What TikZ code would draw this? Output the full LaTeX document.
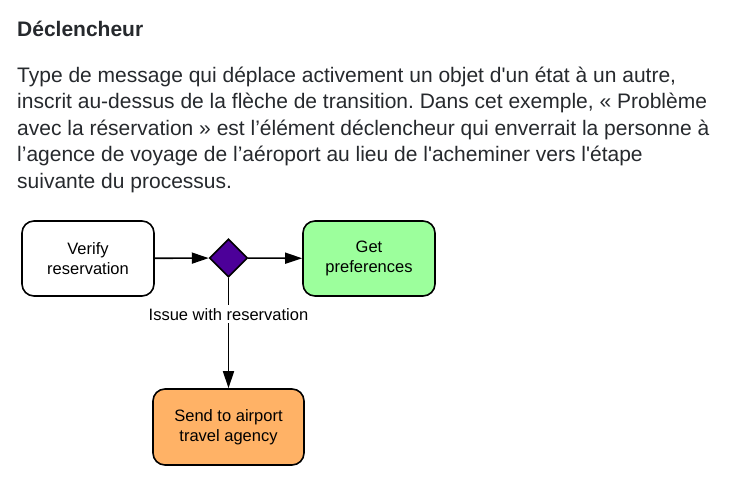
\documentclass[tikz,border=0pt]{standalone}
\usepackage{fontspec}
\setmainfont{Liberation Sans}
\usetikzlibrary{arrows.meta,positioning,shapes.geometric}
\definecolor{textgray}{HTML}{26292D}
\definecolor{prefgreen}{HTML}{9CFF9C}
\definecolor{agencyorange}{HTML}{FFB266}
\definecolor{gatepurple}{HTML}{4C0099}
\frenchspacing

\begin{document}
\begin{tikzpicture}[x=1pt, y=-1pt,
        every node/.style = {align=center, inner sep=0pt},
        state/.style = {draw, line width=1.6pt, rounded corners=12pt, minimum width=132pt, minimum height=75pt,
                font=\fontsize{16.5}{20}\selectfont},
        gate/.style = {draw, line width=1.6pt, diamond, fill=gatepurple, minimum width=38pt, minimum height=38pt},
        flow/.style = {line width=1.6pt, -{Triangle[length=17pt, width=11pt]}}]
        \useasboundingbox (0,0) rectangle (748,490);
        % heading and explanation
        \node [anchor=base west, text=textgray, font=\fontsize{21}{25}\bfseries\selectfont] (title) at (17,36) {Déclencheur};
        \node [anchor=north west, align=left, text=textgray, font=\fontsize{21}{26.6}\selectfont] (body) at (17,66.5)
                {Type de message qui déplace activement un objet d\textquotesingle un état à un autre,\\
                inscrit au-dessus de la flèche de transition. Dans cet exemple, « Problème\\
                avec la réservation » est l’élément déclencheur qui enverrait la personne à\\
                l’agence de voyage de l’aéroport au lieu de l\textquotesingle acheminer vers l\textquotesingle étape\\
                suivante du processus.};
        % diagram
        \node [state, fill=white] (verify) at (88,258.5) {Verify\\reservation};
        \node [gate] (check) at (228.5,258) {};
        \node [state, fill=prefgreen] (prefs) at (369,258.5) {Get\\preferences};
        \node [state, fill=agencyorange, minimum width=151pt, minimum height=76pt] (agency) at (228.5,427) {Send to airport\\travel agency};
        \draw [flow] (verify) -- (check);
        \draw [flow] (check) -- (prefs);
        \draw [flow] (check) -- node [pos=0.33, fill=white, inner sep=3pt, font=\fontsize{16.5}{20}\selectfont] (issue) {Issue with reservation} (agency);
\end{tikzpicture}
\end{document}
